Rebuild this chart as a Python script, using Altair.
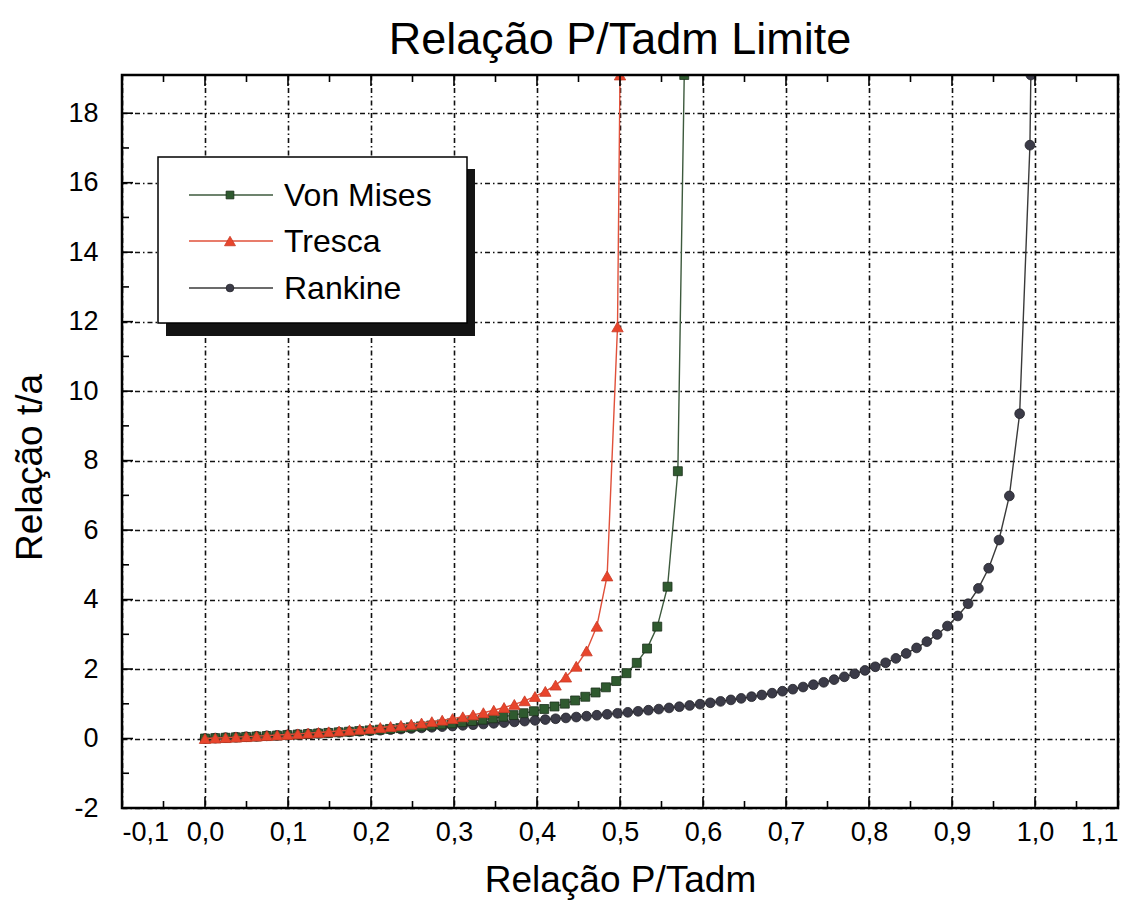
import altair as alt
import pandas as pd

# ---------------- data ----------------
series_names = ["Von Mises", "Tresca", "Rankine"]

vm_x = [0.0, 0.0124, 0.0248, 0.0372, 0.0495, 0.0619, 0.0743, 0.0867, 0.0991, 0.1115,
        0.1239, 0.1362, 0.1486, 0.1610, 0.1734, 0.1858, 0.1982, 0.2105, 0.2229, 0.2353,
        0.2477, 0.2601, 0.2725, 0.2849, 0.2972, 0.3096, 0.3220, 0.3344, 0.3468, 0.3592,
        0.3716, 0.3839, 0.3963, 0.4087, 0.4211, 0.4335, 0.4459, 0.4582, 0.4706, 0.4830,
        0.4954, 0.5078, 0.5202, 0.5326, 0.5449, 0.5573, 0.5697, 0.5774]
vm_y = [0.0, 0.011, 0.022, 0.034, 0.046, 0.058, 0.071, 0.085, 0.099, 0.113,
        0.128, 0.144, 0.161, 0.178, 0.196, 0.214, 0.234, 0.255, 0.276, 0.299,
        0.323, 0.349, 0.376, 0.405, 0.436, 0.469, 0.504, 0.542, 0.582, 0.627,
        0.675, 0.728, 0.786, 0.850, 0.922, 1.003, 1.096, 1.202, 1.326, 1.474,
        1.654, 1.881, 2.178, 2.590, 3.221, 4.370, 7.695, 19.1]

tr_x = [0.0, 0.0124, 0.0248, 0.0373, 0.0497, 0.0621, 0.0745, 0.0870, 0.0994, 0.1118,
        0.1242, 0.1367, 0.1491, 0.1615, 0.1739, 0.1864, 0.1988, 0.2112, 0.2236, 0.2361,
        0.2485, 0.2609, 0.2733, 0.2858, 0.2982, 0.3106, 0.3230, 0.3354, 0.3479, 0.3603,
        0.3727, 0.3851, 0.3976, 0.4100, 0.4224, 0.4348, 0.4473, 0.4597, 0.4721, 0.4845,
        0.4970, 0.5000]
tr_y = [0.0, 0.013, 0.026, 0.040, 0.054, 0.069, 0.084, 0.100, 0.117, 0.135,
        0.154, 0.173, 0.194, 0.215, 0.238, 0.263, 0.288, 0.316, 0.345, 0.377,
        0.410, 0.446, 0.485, 0.528, 0.574, 0.625, 0.681, 0.743, 0.813, 0.892,
        0.982, 1.086, 1.210, 1.357, 1.538, 1.769, 2.080, 2.522, 3.233, 4.680,
        11.85, 19.1]

rk_x = [0.0, 0.0124, 0.0248, 0.0373, 0.0497, 0.0621, 0.0745, 0.0870, 0.0994, 0.1118,
        0.1242, 0.1367, 0.1491, 0.1615, 0.1739, 0.1864, 0.1988, 0.2112, 0.2236, 0.2361,
        0.2485, 0.2609, 0.2733, 0.2858, 0.2982, 0.3106, 0.3230, 0.3354, 0.3479, 0.3603,
        0.3727, 0.3851, 0.3976, 0.4100, 0.4224, 0.4348, 0.4473, 0.4597, 0.4721, 0.4845,
        0.4970, 0.5094, 0.5218, 0.5342, 0.5467, 0.5591, 0.5715, 0.5839, 0.5964, 0.6088,
        0.6212, 0.6336, 0.6460, 0.6585, 0.6709, 0.6833, 0.6957, 0.7082, 0.7206, 0.7330,
        0.7454, 0.7579, 0.7703, 0.7827, 0.7951, 0.8076, 0.8200, 0.8324, 0.8448, 0.8573,
        0.8697, 0.8821, 0.8945, 0.9070, 0.9194, 0.9318, 0.9442, 0.9566, 0.9691, 0.9815,
        0.9939, 0.9950]
rk_y = [0.0, 0.013, 0.025, 0.038, 0.051, 0.064, 0.078, 0.091, 0.105, 0.119,
        0.133, 0.148, 0.162, 0.177, 0.192, 0.208, 0.223, 0.239, 0.255, 0.272,
        0.289, 0.306, 0.324, 0.342, 0.360, 0.379, 0.398, 0.418, 0.438, 0.458,
        0.479, 0.501, 0.523, 0.546, 0.569, 0.593, 0.618, 0.644, 0.670, 0.697,
        0.725, 0.754, 0.784, 0.815, 0.847, 0.881, 0.915, 0.951, 0.989, 1.028,
        1.069, 1.112, 1.156, 1.204, 1.253, 1.305, 1.361, 1.420, 1.482, 1.548,
        1.618, 1.695, 1.776, 1.864, 1.960, 2.065, 2.180, 2.307, 2.448, 2.608,
        2.788, 2.995, 3.238, 3.528, 3.880, 4.322, 4.903, 5.714, 6.983, 9.349,
        17.08, 19.1]

x_major = [-0.1, 0.0, 0.1, 0.2, 0.3, 0.4, 0.5, 0.6, 0.7, 0.8, 0.9, 1.0, 1.1]
x_minor = [-0.05, 0.05, 0.15, 0.25, 0.35, 0.45, 0.55, 0.65, 0.75, 0.85, 0.95, 1.05]
y_major = [-2, 0, 2, 4, 6, 8, 10, 12, 14, 16, 18]
y_minor = [-1, 1, 3, 5, 7, 9, 11, 13, 15, 17]

# ---------------- layout / style ----------------
W, H = 996, 733
FONT = "Liberation Sans"
xscale = alt.Scale(domain=[-0.1, 1.1], nice=False, zero=False)
yscale = alt.Scale(domain=[-2, 19.1], nice=False, zero=False)

common = dict(grid=True, ticks=False, tickSize=0, domain=False,
              gridColor="#111111", gridDash=[5, 3, 1.5, 3], gridWidth=1.6, gridOpacity=1,
              labelFont=FONT, titleFont=FONT, labelColor="black", titleColor="black",
              titleFontWeight="normal", labelFontSize=27, titleFontSize=37)

xaxis = alt.Axis(values=x_major, title="Relação P/Tadm", labelPadding=11,
                 labelExpr="(datum.value < 0 ? '-' : '') + replace(format(abs(datum.value), '.1f'), '.', ',')",
                 titleY=72, titleBaseline="middle", **common)
yaxis = alt.Axis(values=y_major, title="Relação t/a", labelPadding=24,
                 labelExpr="(datum.value < 0 ? '-' : '') + format(abs(datum.value), 'd')",
                 titleX=-92, titleY=392, titleBaseline="middle",
                 titleAngle=-90, titleAlign="center", **common)

X = alt.X("x:Q", scale=xscale, axis=xaxis)
Y = alt.Y("y:Q", scale=yscale, axis=yaxis)


def series(xs, ys, line_color, shape, size, fill, edge):
    df = pd.DataFrame({"x": xs, "y": ys})
    base = alt.Chart(df).encode(x=X, y=Y)
    line = base.mark_line(color=line_color, strokeWidth=1.4, clip=True)
    pts = base.mark_point(shape=shape, size=size, filled=True, fill=fill, stroke=edge,
                          strokeWidth=0.8, opacity=1, clip=True)
    return line + pts


rk = series(rk_x, rk_y, "#3a3a3a", "circle", 95, "#3b3b48", "#222228")
vm = series(vm_x, vm_y, "#3d5a3d", "square", 80, "#2f5a2f", "#1a2e1a")
tr = series(tr_x, tr_y, "#e0503a", "triangle-up", 130, "#e8452c", "#c83a25")


# inner tick marks on the frame
def vticks(vals, y0, y1):
    return alt.Chart(pd.DataFrame({"x": vals})).mark_rule(color="black", strokeWidth=1.6).encode(
        x=X, y=alt.value(y0), y2=alt.value(y1))


def hticks(vals, x0, x1):
    return alt.Chart(pd.DataFrame({"y": vals})).mark_rule(color="black", strokeWidth=1.6).encode(
        y=Y, x=alt.value(x0), x2=alt.value(x1))


ticks = (vticks(x_major[1:-1], H, H - 11) + vticks(x_minor, H, H - 7) +
         vticks(x_major[1:-1], 0, 11) + vticks(x_minor, 0, 7) +
         hticks(y_major[1:], 0, 11) + hticks(y_minor, 0, 7))

one = pd.DataFrame({"a": [0]})
frame = alt.Chart(one).mark_rect(filled=False, stroke="black", strokeWidth=2.5).encode(
    x=alt.value(0), x2=alt.value(W), y=alt.value(0), y2=alt.value(H))

# legend box with shadow
shadow = alt.Chart(one).mark_rect(fill="#141414").encode(
    x=alt.value(44), x2=alt.value(353), y=alt.value(94), y2=alt.value(261))
box = alt.Chart(one).mark_rect(fill="white", stroke="black", strokeWidth=1.5).encode(
    x=alt.value(36), x2=alt.value(345), y=alt.value(82), y2=alt.value(248))

leg_style = [
    ("#3d5a3d", "square", 60, "#2f5a2f", "#1a2e1a", 120),
    ("#e0503a", "triangle-up", 120, "#e8452c", "#c83a25", 166),
    ("#3a3a3a", "circle", 60, "#3b3b48", "#222228", 213),
]
legend_layers = []
for name, (lc, shp, sz, fc, ec, py) in zip(series_names, leg_style):
    d = pd.DataFrame({"serie": [name]})
    legend_layers.append(alt.Chart(d).mark_rule(color=lc, strokeWidth=1.4).encode(
        x=alt.value(67), x2=alt.value(151), y=alt.value(py)))
    legend_layers.append(alt.Chart(d).mark_point(shape=shp, size=sz, filled=True, fill=fc,
                                                 stroke=ec, strokeWidth=0.8, opacity=1).encode(
        x=alt.value(108), y=alt.value(py)))
    legend_layers.append(alt.Chart(d).mark_text(align="left", baseline="middle", fontSize=32,
                                                font=FONT, color="black").encode(
        x=alt.value(162), y=alt.value(py + 1), text="serie:N"))

chart = alt.layer(rk, vm, tr, ticks, frame, shadow, box, *legend_layers).properties(
    width=W, height=H,
    background="white",
    title=alt.TitleParams("Relação P/Tadm Limite", fontSize=45, font=FONT,
                          fontWeight="normal", color="black", anchor="middle", offset=11),
    autosize=alt.AutoSizeParams(type="none"),
    padding={"left": 122, "top": 75, "right": 25, "bottom": 103},
).configure_view(
    stroke=None
)

chart.save("out.html", embed_options={"renderer": "svg", "actions": False})
